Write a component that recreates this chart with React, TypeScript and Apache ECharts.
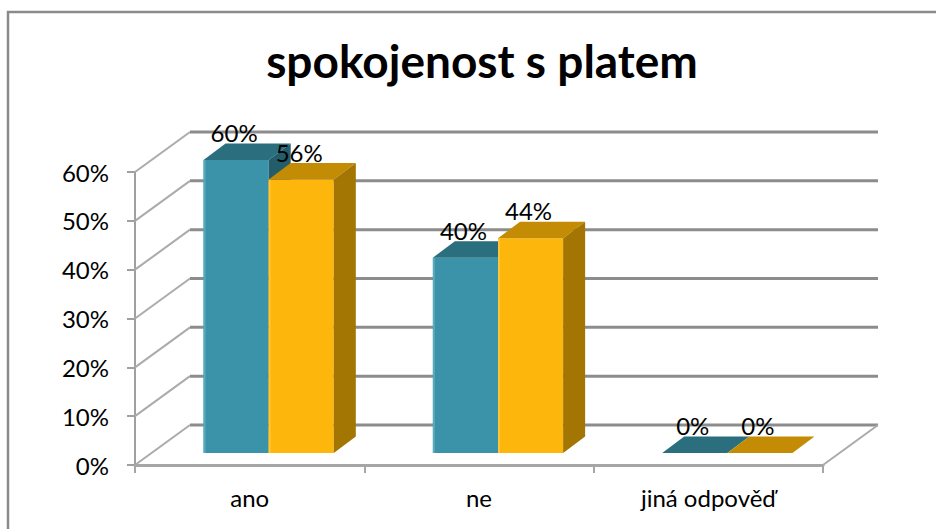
import React, { useEffect, useRef } from "react";
import * as echarts from "echarts";

const categories = ["ano", "ne", "jiná odpověď"];
const seriesNames = ["řada 1", "řada 2"];
const valuesA = [0.6, 0.4, 0];
const valuesB = [0.56, 0.44, 0];
const yTicks = [0, 0.1, 0.2, 0.3, 0.4, 0.5, 0.6];

// 3D styling constants
const WALL = [55, -40];
const FRONT = [19, -12];
const DEPTH = [22, -16.5];
const BAR_RATIO = 0.284;
const FONT = "Lato";

const COLORS = [
  { front: "#3A93A8", top: "#2B6E7E", side: "#235D6B" },
  { front: "#FDB70C", top: "#C48B04", side: "#A37503" },
];

const pct = (v: number) => Math.round(v * 100) + "%";

export default function App() {
  const ref = useRef<HTMLDivElement>(null);
  useEffect(() => {
    if (!ref.current) return;
    const chart = echarts.init(ref.current, undefined, { renderer: "svg" });

    const wallRender = (params: any, api: any) => {
      const cs = params.coordSys;
      const v = api.value(1);
      const y = api.coord([0, v])[1];
      const x0 = cs.x;
      const x1 = cs.x + cs.width;
      const children: any[] = [
        {
          type: "line",
          shape: { x1: x0, y1: y, x2: x0 + WALL[0], y2: y + WALL[1] },
          style: { stroke: "#ababab", lineWidth: 2 },
        },
        {
          type: "line",
          shape: { x1: x0 + WALL[0], y1: y + WALL[1], x2: x1 + WALL[0], y2: y + WALL[1] },
          style: { stroke: "#8c8c8c", lineWidth: 3 },
        },
      ];
      if (v === 0) {
        children.push({
          type: "line",
          shape: { x1: x1, y1: y, x2: x1 + WALL[0], y2: y + WALL[1] },
          style: { stroke: "#ababab", lineWidth: 2 },
        });
      }
      return { type: "group", children };
    };

    const barRender = (params: any, api: any) => {
      const si = params.seriesIndex - 1;
      const idx = api.value(0);
      const val = api.value(1);
      const base = api.coord([idx, 0]);
      const topY0 = api.coord([idx, val])[1];
      const band = api.size([1, 0])[0];
      const bw = band * BAR_RATIO;
      const left = base[0] + FRONT[0] - bw + si * bw;
      const right = left + bw;
      const bottom = base[1] + FRONT[1];
      const top = topY0 + FRONT[1];
      const c = COLORS[si];
      const children: any[] = [
        {
          type: "polygon",
          shape: { points: [[left, bottom], [right, bottom], [right, top], [left, top]] },
          style: { fill: c.front },
        },
        {
          type: "line",
          shape: { x1: left + 1, y1: bottom, x2: left + 1, y2: top },
          style: { stroke: si === 0 ? "#5AAABD" : "#FFC533", lineWidth: 2 },
        },
        {
          type: "polygon",
          shape: {
            points: [
              [left, top],
              [right, top],
              [right + DEPTH[0], top + DEPTH[1]],
              [left + DEPTH[0], top + DEPTH[1]],
            ],
          },
          style: { fill: c.top },
        },
        {
          type: "polygon",
          shape: {
            points: [
              [right, bottom],
              [right, top],
              [right + DEPTH[0], top + DEPTH[1]],
              [right + DEPTH[0], bottom + DEPTH[1]],
            ],
          },
          style: { fill: c.side },
        },
        {
          type: "text",
          style: {
            text: pct(val),
            x: (left + right) / 2 - 2,
            y: top + DEPTH[1] + 1,
            align: "center",
            verticalAlign: "bottom",
            fontSize: 24,
            fontFamily: FONT,
            fill: "#000",
          },
        },
      ];
      return { type: "group", children };
    };

    chart.setOption({
      animation: false,
      backgroundColor: "#fff",
      title: {
        text: "spokojenost s platem",
        left: 477,
        top: 32,
        textAlign: "center",
        textStyle: { fontFamily: FONT, fontWeight: "bold", fontSize: 46, color: "#000" },
      },
      graphic: [
        {
          type: "rect",
          shape: { x: 8, y: 12, width: 1000, height: 1000 },
          style: { fill: "none", stroke: "#8a8a8a", lineWidth: 2.5 },
          silent: true,
        },
      ],
      grid: { left: 135, top: 172, width: 688, height: 293 },
      xAxis: {
        type: "category",
        data: categories,
        axisLine: { show: true, lineStyle: { color: "#a6a6a6", width: 3 } },
        axisTick: { show: true, length: 8, lineStyle: { color: "#a6a6a6", width: 2 } },
        axisLabel: { fontFamily: FONT, fontSize: 24, color: "#000", margin: 20 },
        splitLine: { show: false },
      },
      yAxis: {
        type: "value",
        min: 0,
        max: 0.6,
        interval: 0.1,
        axisLine: { show: true, lineStyle: { color: "#a0a0a0", width: 2 } },
        axisTick: { show: true, length: 8, lineStyle: { color: "#a0a0a0", width: 2 } },
        axisLabel: { fontFamily: FONT, fontSize: 24, color: "#000", margin: 26, formatter: (v: number) => pct(v) },
        splitLine: { show: false },
      },
      series: [
        {
          type: "custom",
          name: "walls",
          renderItem: wallRender,
          data: yTicks.map((v) => [0, v]),
          z: 1,
          silent: true,
        },
        {
          type: "custom",
          name: seriesNames[0],
          renderItem: barRender,
          data: valuesA.map((v, i) => [i, v]),
          z: 3,
        },
        {
          type: "custom",
          name: seriesNames[1],
          renderItem: barRender,
          data: valuesB.map((v, i) => [i, v]),
          z: 4,
        },
      ],
    });
    return () => chart.dispose();
  }, []);
  return (
    <div
      ref={ref}
      style={{ position: "fixed", left: 0, top: 0, width: 936, height: 529 }}
    />
  );
}
